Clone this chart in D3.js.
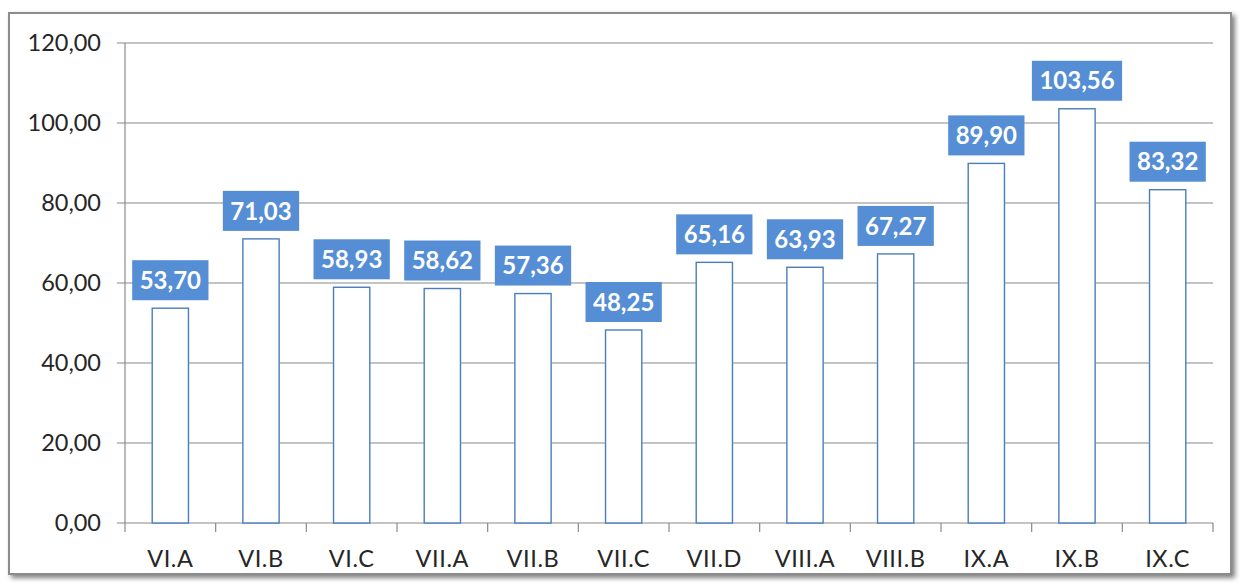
<!DOCTYPE html>
<html><head><meta charset="utf-8">
<script src="https://cdn.jsdelivr.net/npm/d3@7"></script>
<style>body{margin:0;background:#fff}svg{display:block}</style>
</head><body>
<svg id="c" width="1242" height="583"></svg>
<script>
const categories = ["VI.A","VI.B","VI.C","VII.A","VII.B","VII.C","VII.D","VIII.A","VIII.B","IX.A","IX.B","IX.C"];
const values = [53.70,71.03,58.93,58.62,57.36,48.25,65.16,63.93,67.27,89.90,103.56,83.32];
const yTicks = [0,20,40,60,80,100,120];

const svg = d3.select("#c");
const fmt = v => d3.format(".2f")(v).replace(".", ",");
const font = "Lato, 'Open Sans', sans-serif";

// frame with shadow
const defs = svg.append("defs");
const f = defs.append("filter").attr("id","sh").attr("x","-5%").attr("y","-5%").attr("width","110%").attr("height","110%");
f.append("feDropShadow").attr("dx",3).attr("dy",3).attr("stdDeviation",2.5).attr("flood-color","#000").attr("flood-opacity",0.5);
svg.append("rect").attr("x",9).attr("y",13).attr("width",1222).attr("height",561)
  .attr("fill","#fff").attr("stroke","#8c8c8c").attr("stroke-width",2).attr("filter","url(#sh)");

const L = 125, R = 1213, T = 43, B = 523;
const x = d3.scaleBand().domain(categories).range([L, R]).padding(0);
const y = d3.scaleLinear().domain([0,120]).range([B, T]);

// gridlines
svg.append("g").selectAll("line").data(yTicks).join("line")
  .attr("x1", L - 8).attr("x2", R).attr("y1", d => y(d)).attr("y2", d => y(d))
  .attr("stroke", "#8a8a8a").attr("stroke-width", 1.2);
// y axis line
svg.append("line").attr("x1",L).attr("x2",L).attr("y1",T).attr("y2",B).attr("stroke","#8a8a8a").attr("stroke-width",1.2);
// y labels
svg.append("g").selectAll("text").data(yTicks).join("text")
  .attr("x", 101).attr("y", d => y(d)).attr("dy","0.36em").attr("text-anchor","end")
  .attr("font-family", font).attr("font-size", 23.5).attr("fill", "#262626").text(fmt);

// x ticks at band boundaries
const bounds = categories.map(c => x(c)).concat([x(categories[categories.length-1]) + x.bandwidth()]);
svg.append("g").selectAll("line").data(bounds).join("line")
  .attr("x1", d => d).attr("x2", d => d).attr("y1", B).attr("y2", B + 9)
  .attr("stroke", "#8a8a8a").attr("stroke-width", 1.2);
// x labels
svg.append("g").selectAll("text").data(categories).join("text")
  .attr("x", d => x(d) + x.bandwidth()/2).attr("y", 567).attr("text-anchor","middle")
  .attr("font-family", font).attr("font-size", 23.5).attr("letter-spacing", 0.6).attr("fill", "#262626").text(d => d);

// bars
const bw = x.bandwidth() * 0.4;
svg.append("g").selectAll("rect").data(values).join("rect")
  .attr("x", (d,i) => x(categories[i]) + (x.bandwidth() - bw)/2)
  .attr("y", d => y(d)).attr("width", bw).attr("height", d => B - y(d))
  .attr("fill", "#fff").attr("stroke", "#4a7ebb").attr("stroke-width", 1.4);

// labels
const lg = svg.append("g").selectAll("g").data(values).join("g");
lg.each(function(d, i) {
  const g = d3.select(this);
  const cx = x(categories[i]) + x.bandwidth()/2;
  const t = g.append("text").attr("x", cx).attr("y", y(d) - 8 - 20).attr("dy","0.36em")
    .attr("text-anchor","middle").attr("font-family", font).attr("font-weight", 700)
    .attr("font-size", 24).attr("fill", "#fff").text(fmt(d));
  const w = t.node().getComputedTextLength() + 15;
  g.insert("rect", "text").attr("x", cx - w/2).attr("y", y(d) - 8 - 40).attr("width", w).attr("height", 40)
    .attr("fill", "#558ed5");
});
</script>
</body></html>
